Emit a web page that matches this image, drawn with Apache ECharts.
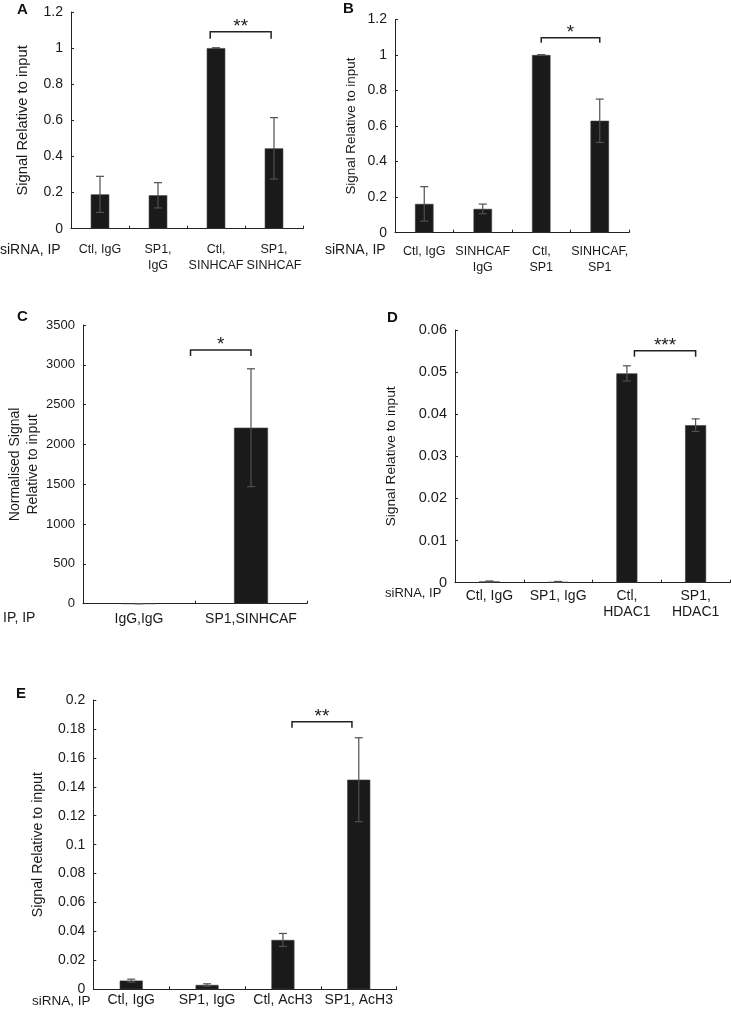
<!DOCTYPE html>
<html>
<head>
<meta charset="utf-8">
<script src="https://cdn.jsdelivr.net/npm/echarts@6/dist/echarts.min.js"></script>
<style>html,body{margin:0;padding:0;background:#fff}#c{width:731px;height:1011px}</style>
</head>
<body>
<div id="c"></div>
<script>
// ---------- DATA ----------
const catsA = ['Ctl, IgG', 'SP1,\nIgG', 'Ctl,\nSINHCAF', 'SP1,\nSINHCAF'];
const valsA = [0.19, 0.185, 1.0, 0.445];
const errA  = [0.10, 0.07, 0.002, 0.17];
const axisA = [0, 1.2, 0.2];
const sigA  = [2, 3, 1.09, '**'];

const catsB = ['Ctl, IgG', 'SINHCAF\nIgG', 'Ctl,\nSP1', 'SINHCAF,\nSP1'];
const valsB = [0.162, 0.134, 1.0, 0.63];
const errB  = [0.097, 0.027, 0.002, 0.122];
const axisB = [0, 1.2, 0.2];
const sigB  = [2, 3, 1.097, '*'];

const catsC = ['IgG,IgG', 'SP1,SINHCAF'];
const valsC = [1, 2210];
const errC  = [0, 740];
const axisC = [0, 3500, 500];
const sigC  = [0, 1, 3187, '*'];

const catsD = ['Ctl, IgG', 'SP1, IgG', 'Ctl,\nHDAC1', 'SP1,\nHDAC1'];
const valsD = [0.0003, 0.0002, 0.0497, 0.0374];
const errD  = [0.0001, 0.0001, 0.0018, 0.0015];
const axisD = [0, 0.06, 0.01];
const sigD  = [2, 3, 0.0551, '***'];

const catsE = ['Ctl, IgG', 'SP1, IgG', 'Ctl, AcH3', 'SP1, AcH3'];
const valsE = [0.006, 0.003, 0.0341, 0.1449];
const errE  = [0.001, 0.0008, 0.0045, 0.029];
const axisE = [0, 0.2, 0.02];
const sigE  = [2, 3, 0.185, '**'];

// ---------- LAYOUT ----------
const FONT = 'Liberation Sans, Arial, sans-serif';
const TXT = '#1a1a1a';
const panels = [
  {cats: catsA, vals: valsA, errs: errA, axis: axisA, sig: sigA, name: 'Signal Relative to input',
   grid: {left: 71, top: 12, width: 232, height: 216.7}, barWidth: 18.5, nameGap: 40, nameFont: 14.7, nameLH: 16,
   labelMargin: 13, tickFont: 14, catFont: 12.5, offs: [-0.1, -0.05], tick: 7},
  {cats: catsB, vals: valsB, errs: errB, axis: axisB, sig: sigB, name: 'Signal Relative to input',
   grid: {left: 395, top: 19.5, width: 234, height: 213.2}, barWidth: 18.5, nameGap: 36, nameFont: 13.4, nameLH: 16,
   labelMargin: 11, tickFont: 14, catFont: 12.5, offs: [0, 0], tick: 5},
  {cats: catsC, vals: valsC, errs: errC, axis: axisC, sig: sigC, name: 'Normalised Signal\nRelative to input',
   grid: {left: 83, top: 325, width: 224, height: 278.7}, barWidth: 34, nameGap: 40, nameFont: 14, nameLH: 18,
   labelMargin: 7, tickFont: 13, catFont: 14, offs: [0.46, 0], tick: 6},
  {cats: catsD, vals: valsD, errs: errD, axis: axisD, sig: sigD, name: 'Signal Relative to input',
   grid: {left: 455, top: 330, width: 275, height: 252.7}, barWidth: 21, nameGap: 56, nameFont: 13.7, nameLH: 16,
   labelMargin: 5, tickFont: 14.5, catFont: 14, offs: [0.11, 0], tick: 6},
  {cats: catsE, vals: valsE, errs: errE, axis: axisE, sig: sigE, name: 'Signal Relative to input',
   grid: {left: 93.3, top: 700, width: 303.4, height: 289.3}, barWidth: 23, nameGap: 47, nameFont: 14.2, nameLH: 16,
   labelMargin: 3, tickFont: 14, catFont: 14, offs: [0.12, -0.09], tick: 6}
];

function errRender(params, api) {
  const x = api.value(0), v = api.value(1), e = api.value(2);
  const t = api.coord([x, v + e]), b = api.coord([x, v - e]);
  const cap = 4;
  const st = {stroke: '#505050', lineWidth: 1.2};
  return {type: 'group', children: [
    {type: 'line', shape: {x1: t[0], y1: t[1], x2: b[0], y2: b[1]}, style: st},
    {type: 'line', shape: {x1: t[0] - cap, y1: t[1], x2: t[0] + cap, y2: t[1]}, style: st},
    {type: 'line', shape: {x1: b[0] - cap, y1: b[1], x2: b[0] + cap, y2: b[1]}, style: st}
  ]};
}

function makeBracket(p) {
  return function (params, api) {
    const from = api.value(0), to = api.value(1), y = api.value(2);
    const band = api.size([1, 0])[0];
    const a = api.coord([from, y]), c = api.coord([to, y]);
    const x1 = a[0] + p.offs[0] * band, x2 = c[0] + p.offs[1] * band, yy = a[1];
    const st = {stroke: '#222', lineWidth: 1.5, fill: null};
    return {type: 'group', children: [
      {type: 'polyline', shape: {points: [[x1, yy + p.tick], [x1, yy], [x2, yy], [x2, yy + p.tick]]}, style: st},
      {type: 'text', style: {text: p.sig[3], x: (x1 + x2) / 2, y: yy - 5, align: 'center', verticalAlign: 'middle',
        font: '19px ' + FONT, fill: TXT}}
    ]};
  };
}

const option = {
  animation: false,
  backgroundColor: '#fff',
  grid: panels.map(p => Object.assign({containLabel: false}, p.grid)),
  xAxis: panels.map((p, i) => ({
    type: 'category', gridIndex: i, data: p.cats,
    axisLine: {lineStyle: {color: '#222', width: 1}},
    axisTick: {show: true, inside: true, length: 3, lineStyle: {color: '#222'}},
    axisLabel: {interval: 0, color: TXT, fontFamily: FONT, fontSize: p.catFont, lineHeight: 16, margin: p.labelMargin}
  })),
  yAxis: panels.map((p, i) => ({
    type: 'value', gridIndex: i, min: p.axis[0], max: p.axis[1], interval: p.axis[2],
    name: p.name, nameLocation: 'middle', nameGap: p.nameGap,
    nameTextStyle: {color: TXT, fontFamily: FONT, fontSize: p.nameFont, lineHeight: p.nameLH},
    splitLine: {show: false},
    axisLine: {show: true, lineStyle: {color: '#222', width: 1}},
    axisTick: {show: true, inside: true, length: 3, lineStyle: {color: '#222'}},
    axisLabel: {color: TXT, fontFamily: FONT, fontSize: p.tickFont, margin: 8,
      formatter: v => String(+v.toPrecision(10))}
  })),
  series: panels.flatMap((p, i) => [
    {type: 'bar', xAxisIndex: i, yAxisIndex: i, data: p.vals, barWidth: p.barWidth,
     itemStyle: {color: '#1a1a1a', borderColor: '#3a3a3a', borderWidth: 0.6}, silent: true},
    {type: 'custom', xAxisIndex: i, yAxisIndex: i, renderItem: errRender, z: 5, silent: true,
     data: p.vals.map((v, k) => [k, v, p.errs[k]])},
    {type: 'custom', xAxisIndex: i, yAxisIndex: i, renderItem: makeBracket(p), z: 5, silent: true,
     clip: false, data: [[p.sig[0], p.sig[1], p.sig[2]]]}
  ]),
  graphic: [
    {type: 'text', style: {text: 'A', x: 17, y: 10, font: 'bold 15px ' + FONT, fill: '#111', verticalAlign: 'middle'}},
    {type: 'text', style: {text: 'B', x: 343, y: 9, font: 'bold 15px ' + FONT, fill: '#111', verticalAlign: 'middle'}},
    {type: 'text', style: {text: 'C', x: 17, y: 317, font: 'bold 15px ' + FONT, fill: '#111', verticalAlign: 'middle'}},
    {type: 'text', style: {text: 'D', x: 387, y: 318, font: 'bold 15px ' + FONT, fill: '#111', verticalAlign: 'middle'}},
    {type: 'text', style: {text: 'E', x: 16, y: 694, font: 'bold 15px ' + FONT, fill: '#111', verticalAlign: 'middle'}},
    {type: 'text', style: {text: 'siRNA, IP', x: 0, y: 250, font: '14px ' + FONT, fill: TXT, verticalAlign: 'middle'}},
    {type: 'text', style: {text: 'siRNA, IP', x: 325, y: 250, font: '14px ' + FONT, fill: TXT, verticalAlign: 'middle'}},
    {type: 'text', style: {text: 'IP, IP', x: 3, y: 618, font: '14px ' + FONT, fill: TXT, verticalAlign: 'middle'}},
    {type: 'text', style: {text: 'siRNA, IP', x: 385, y: 593, font: '13px ' + FONT, fill: TXT, verticalAlign: 'middle'}},
    {type: 'text', style: {text: 'siRNA, IP', x: 32, y: 1001, font: '13.5px ' + FONT, fill: TXT, verticalAlign: 'middle'}}
  ]
};

const chart = echarts.init(document.getElementById('c'), null, {renderer: 'canvas'});
chart.setOption(option);
</script>
</body>
</html>
